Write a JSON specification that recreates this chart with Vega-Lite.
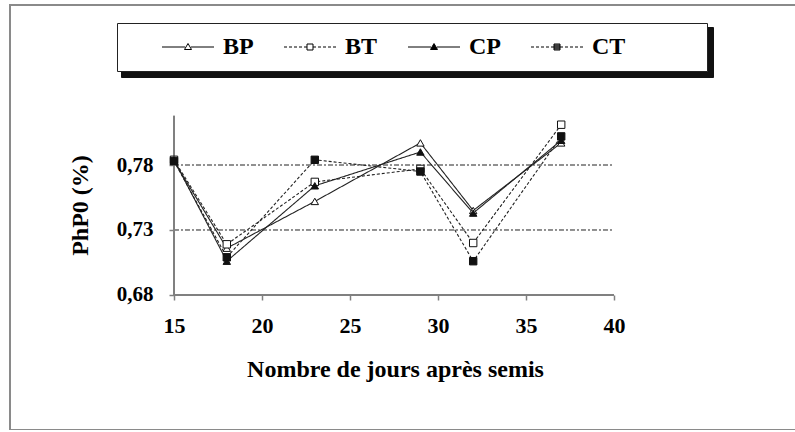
{
  "$schema": "https://vega.github.io/schema/vega-lite/v6.json",
  "width": 786,
  "height": 425,
  "autosize": {"type": "none"},
  "padding": {"left": 10, "top": 5, "right": 0, "bottom": 0},
  "background": "white",
  "config": {"view": {"stroke": "#8a8a8a", "strokeWidth": 2}, "font": "Liberation Serif"},
  "data": {"values": [
    {"day": 15, "series": "BP", "v": 0.783}, {"day": 15, "series": "BT", "v": 0.784}, {"day": 15, "series": "CP", "v": 0.784}, {"day": 15, "series": "CT", "v": 0.783},
    {"day": 18, "series": "BP", "v": 0.716}, {"day": 18, "series": "BT", "v": 0.719}, {"day": 18, "series": "CP", "v": 0.706}, {"day": 18, "series": "CT", "v": 0.709},
    {"day": 23, "series": "BP", "v": 0.752}, {"day": 23, "series": "BT", "v": 0.767}, {"day": 23, "series": "CP", "v": 0.764}, {"day": 23, "series": "CT", "v": 0.784},
    {"day": 29, "series": "BP", "v": 0.797}, {"day": 29, "series": "BT", "v": 0.777}, {"day": 29, "series": "CP", "v": 0.790}, {"day": 29, "series": "CT", "v": 0.775},
    {"day": 32, "series": "BP", "v": 0.745}, {"day": 32, "series": "BT", "v": 0.720}, {"day": 32, "series": "CP", "v": 0.743}, {"day": 32, "series": "CT", "v": 0.706},
    {"day": 37, "series": "BP", "v": 0.797}, {"day": 37, "series": "BT", "v": 0.811}, {"day": 37, "series": "CP", "v": 0.799}, {"day": 37, "series": "CT", "v": 0.802}
  ]},
  "layer": [
    {
      "mark": {"type": "line", "color": "#222", "strokeWidth": 1.1},
      "encoding": {
        "x": {"field": "day", "type": "quantitative",
          "scale": {"domain": [5.682, 50.341], "nice": false, "zero": false},
          "axis": {"values": [15, 20, 25, 30, 35, 40], "offset": -135, "domain": false, "grid": false,
            "tickColor": "#808080", "tickWidth": 1.5, "tickSize": 5,
            "labelFont": "Liberation Serif", "labelFontWeight": "bold", "labelFontSize": 22, "labelColor": "black", "labelPadding": 15,
            "title": "Nombre de jours après semis", "titleFont": "Liberation Serif", "titleFontWeight": "bold", "titleFontSize": 24, "titleColor": "black",
            "titleX": 385, "titleY": 62, "titleBaseline": "top"}},
        "y": {"field": "v", "type": "quantitative",
          "scale": {"domain": [0.57615, 0.90308], "nice": false, "zero": false},
          "axis": {"values": [0.68, 0.73, 0.78], "offset": -164, "domain": false, "grid": false,
            "tickColor": "#808080", "tickWidth": 1.5, "tickSize": 5,
            "labelExpr": "replace(format(datum.value, '.2f'), '.', ',')",
            "labelFont": "Liberation Serif", "labelFontWeight": "bold", "labelFontSize": 21, "labelColor": "black", "labelPadding": 16,
            "title": "PhP0 (%)", "titleFont": "Liberation Serif", "titleFontWeight": "bold", "titleFontSize": 24, "titleColor": "black",
            "titleX": -82, "titleY": 200}},
        "strokeDash": {"field": "series", "type": "nominal",
          "scale": {"domain": ["BP", "BT", "CP", "CT"], "range": [[1, 0], [3, 2], [1, 0], [3, 2]]}, "legend": null}
      }
    },
    {
      "data": {"values": [{}]},
      "mark": {"type": "rule", "color": "#222", "strokeWidth": 1, "strokeDash": [5, 2, 2, 2]},
      "encoding": {"x": {"datum": 15, "type": "quantitative"}, "x2": {"datum": 40}, "y": {"datum": 0.78, "type": "quantitative"}}
    },
    {
      "data": {"values": [{}]},
      "mark": {"type": "rule", "color": "#222", "strokeWidth": 1, "strokeDash": [5, 2, 2, 2]},
      "encoding": {"x": {"datum": 15, "type": "quantitative"}, "x2": {"datum": 40}, "y": {"datum": 0.73, "type": "quantitative"}}
    },
    {
      "data": {"values": [{}]},
      "mark": {"type": "rule", "color": "#808080", "strokeWidth": 2},
      "encoding": {"x": {"datum": 15, "type": "quantitative"}, "x2": {"datum": 40}, "y": {"datum": 0.68, "type": "quantitative"}}
    },
    {
      "data": {"values": [{}]},
      "mark": {"type": "rule", "color": "#808080", "strokeWidth": 2},
      "encoding": {"x": {"datum": 15, "type": "quantitative"}, "y": {"datum": 0.68, "type": "quantitative"}, "y2": {"datum": 0.818}}
    },
    {
      "mark": {"type": "point", "filled": true, "stroke": "#111", "strokeWidth": 1, "size": 55, "opacity": 1},
      "encoding": {
        "x": {"field": "day", "type": "quantitative"},
        "y": {"field": "v", "type": "quantitative"},
        "shape": {"field": "series", "type": "nominal",
          "scale": {"domain": ["BP", "BT", "CP", "CT"], "range": ["triangle-up", "square", "triangle-up", "square"]}, "legend": null},
        "fill": {"field": "series", "type": "nominal",
          "scale": {"domain": ["BP", "BT", "CP", "CT"], "range": ["white", "white", "#111", "#111"]}, "legend": null}
      }
    },
    {
      "transform": [{"filter": "datum.day > 1000"}],
      "mark": {"type": "point", "stroke": "#111", "strokeWidth": 1, "opacity": 1},
      "encoding": {
        "x": {"field": "day", "type": "quantitative"},
        "y": {"field": "v", "type": "quantitative"},
        "shape": {"field": "series", "type": "nominal",
          "scale": {"domain": ["BP"], "range": ["M-1,-1.2M55.4,1.2"]},
          "legend": {"orient": "none", "legendX": 111, "legendY": 22, "direction": "horizontal", "title": null,
            "padding": 12, "strokeColor": "#111", "fillColor": "#111", "zindex": 0,
            "symbolSize": 400, "symbolStrokeColor": "#111", "symbolFillColor": "#111", "symbolOpacity": 1,
            "labelExpr": "''", "labelFontSize": 1, "labelOffset": 0}}
      }
    },
    {
      "transform": [{"filter": "datum.day > 1000"}],
      "mark": {"type": "point", "stroke": "black", "strokeWidth": 1, "opacity": 1},
      "encoding": {
        "x": {"field": "day", "type": "quantitative"},
        "y": {"field": "v", "type": "quantitative"},
        "shape": {"field": "series", "type": "nominal",
          "scale": {"domain": ["BP", "BT", "CP", "CT"], "range": [
            "M2.1,0H4.4M5,0H7.3M4.7,-0.35L5.05,0.25H4.35Z",
            "M2.1,0H2.4M2.6,0H2.9M3.1,0H3.4M3.6,0H3.9M4.1,0H4.4M4.4,-0.3H5V0.3H4.4ZM5,0H5.3M5.5,0H5.8M6,0H6.3M6.5,0H6.8M7,0H7.3",
            "M2.1,0H4.4M5,0H7.3M4.7,-0.35L5.05,0.25H4.35ZM4.64,-0.25H4.76M4.58,-0.15H4.82M4.53,-0.05H4.87M4.47,0.05H4.93M4.41,0.15H4.99",
            "M2.1,0H2.4M2.6,0H2.9M3.1,0H3.4M3.6,0H3.9M4.1,0H4.4M4.4,-0.3H5V0.3H4.4ZM4.4,-0.2H5M4.4,-0.1H5M4.4,0H5M4.4,0.1H5M4.4,0.2H5M5,0H5.3M5.5,0H5.8M6,0H6.3M6.5,0H6.8M7,0H7.3M18.3,0"
          ]},
          "legend": {"orient": "none", "legendX": 107, "legendY": 18, "direction": "horizontal", "columns": 4, "gridAlign": "none",
            "title": null,
            "padding": 12, "strokeColor": "#222", "fillColor": "white", "zindex": 1,
            "symbolSize": 400, "symbolStrokeColor": "black", "symbolStrokeWidth": 1, "symbolFillColor": "white", "symbolOpacity": 1,
            "labelFont": "Liberation Serif", "labelFontWeight": "bold", "labelFontSize": 24, "labelColor": "black",
            "labelOffset": 70, "columnPadding": -3, "labelLimit": 0}
        }
      }
    }
  ],
  "resolve": {"scale": {"shape": "independent"}}
}
